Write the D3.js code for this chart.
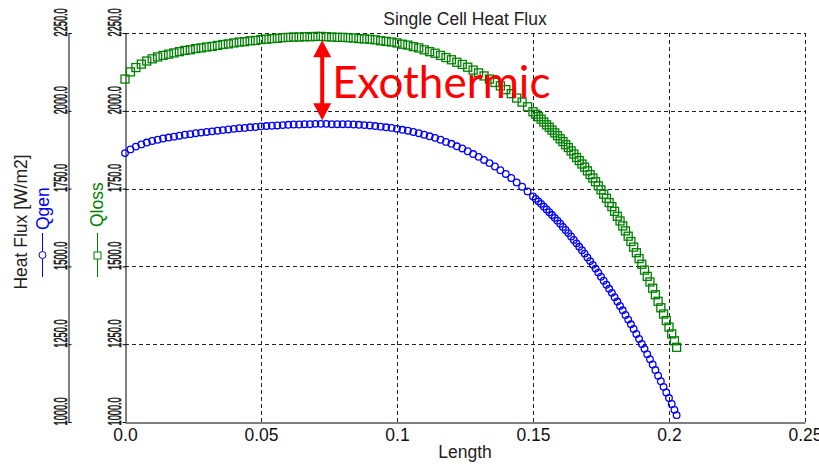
<!DOCTYPE html>
<html>
<head>
<meta charset="utf-8">
<script src="https://cdn.jsdelivr.net/npm/d3@7"></script>
<style>
  body { margin: 0; background: #fff; }
  svg { display: block; font-family: "Liberation Sans", Arial, sans-serif; }
</style>
</head>
<body>
<figure style="margin:0"></figure>
<script>
// x positions along the cell (Length)
const lengthVals = [
  0, 0.002, 0.004, 0.006, 0.008, 0.010, 0.012, 0.014, 0.016, 0.018,
  0.020, 0.022, 0.024, 0.026, 0.028, 0.030, 0.032, 0.034, 0.036, 0.038,
  0.040, 0.042, 0.044, 0.046, 0.048, 0.050, 0.052, 0.054, 0.056, 0.058,
  0.060, 0.062, 0.064, 0.066, 0.068, 0.070, 0.072, 0.074, 0.076, 0.078,
  0.080, 0.082, 0.084, 0.086, 0.088, 0.090, 0.092, 0.094, 0.096, 0.098,
  0.100, 0.102, 0.104, 0.106, 0.108, 0.110, 0.112, 0.114, 0.116, 0.118,
  0.120, 0.122, 0.124, 0.126, 0.128, 0.130, 0.132, 0.134, 0.136, 0.138,
  0.140, 0.142, 0.144, 0.146, 0.148, 0.150,
  0.151, 0.152, 0.153, 0.154, 0.155, 0.156, 0.157, 0.158, 0.159, 0.160,
  0.161, 0.162, 0.163, 0.164, 0.165, 0.166, 0.167, 0.168, 0.169, 0.170,
  0.171, 0.172, 0.173, 0.174, 0.175, 0.176, 0.177, 0.178, 0.179, 0.180,
  0.181, 0.182, 0.183, 0.184, 0.185, 0.186, 0.187, 0.188, 0.189, 0.190,
  0.191, 0.192, 0.193, 0.194, 0.195, 0.196, 0.197, 0.198, 0.199, 0.200,
  0.201, 0.202, 0.2028
];

// Qgen heat flux [W/m2] (blue circles)
const qgen = [
  1864, 1876, 1885, 1892, 1898, 1903, 1907, 1911, 1914, 1917,
  1920, 1923, 1925, 1928, 1930, 1932, 1934, 1936, 1938, 1940,
  1942, 1944, 1945, 1947, 1948, 1950, 1951, 1952, 1953, 1954,
  1955, 1956, 1956, 1957, 1957, 1958, 1958, 1958, 1957, 1957,
  1957, 1957, 1956, 1955, 1954, 1953, 1951, 1949, 1947, 1945,
  1942, 1939, 1936, 1932, 1928, 1923, 1918, 1913, 1907, 1900,
  1894, 1886, 1879, 1870, 1861, 1852, 1842, 1832, 1821, 1809,
  1797, 1784, 1770, 1756, 1741, 1725,
  1717, 1709, 1701, 1692, 1683, 1674, 1665, 1656, 1647, 1637,
  1627, 1617, 1607, 1596, 1585, 1574, 1563, 1552, 1541, 1529,
  1517, 1505, 1493, 1480, 1467, 1454, 1441, 1428, 1415, 1401,
  1387, 1373, 1359, 1344, 1329, 1314, 1299, 1283, 1267, 1251,
  1235, 1218, 1202, 1185, 1167, 1149, 1131, 1113, 1095, 1077,
  1058, 1039, 1022
];

// Qloss heat flux [W/m2] (green squares)
const qloss = [
  2102, 2125, 2139, 2150, 2160, 2167, 2173, 2178, 2182, 2186,
  2190, 2194, 2196, 2200, 2202, 2205, 2207, 2210, 2213, 2215,
  2218, 2221, 2222, 2225, 2226, 2229, 2230, 2232, 2233, 2235,
  2236, 2237, 2237, 2238, 2238, 2239, 2239, 2238, 2237, 2236,
  2236, 2235, 2234, 2232, 2231, 2230, 2228, 2225, 2223, 2221,
  2218, 2214, 2211, 2206, 2202, 2196, 2190, 2185, 2178, 2171,
  2164, 2156, 2149, 2140, 2131, 2122, 2112, 2102, 2091, 2080,
  2068, 2055, 2041, 2028, 2013, 1997,
  1989, 1981, 1973, 1964, 1955, 1947, 1938, 1929, 1920, 1910,
  1901, 1891, 1882, 1871, 1861, 1850, 1840, 1829, 1819, 1807,
  1795, 1784, 1772, 1759, 1746, 1732, 1719, 1705, 1692, 1677,
  1661, 1646, 1630, 1614, 1597, 1580, 1562, 1544, 1525, 1507,
  1488, 1468, 1450, 1430, 1409, 1388, 1367, 1347, 1326, 1305,
  1283, 1261, 1240
];

const xTicks = [0, 0.05, 0.1, 0.15, 0.2, 0.25];
const xTickLabels = ["0.0", "0.05", "0.1", "0.15", "0.2", "0.25"];
const yTicks = [1000, 1250, 1500, 1750, 2000, 2250];

// annotation: arrow between the two curves
const arrowAt = 0.0725, arrowTop = 2227, arrowBottom = 1970;

function buildChart() {
    const width = 819, height = 469;
    const left = 125, right = 805, top = 33, bottom = 422;

    const svg = d3.select("figure")
        .append("svg")
        .attr("width", width)
        .attr("height", height);

    const xScale = d3.scaleLinear().domain([0, 0.25]).range([left, right]);
    const yScale = d3.scaleLinear().domain([1000, 2250]).range([bottom, top]);

    // dashed grid
    const grid = svg.append("g")
        .attr("stroke", "#222")
        .attr("stroke-width", 1)
        .attr("stroke-dasharray", "4,3");
    grid.selectAll(".vgrid")
        .data(xTicks.slice(1))
        .enter().append("line")
        .attr("x1", d => Math.round(xScale(d)) + 0.5)
        .attr("x2", d => Math.round(xScale(d)) + 0.5)
        .attr("y1", yScale(1000))
        .attr("y2", yScale(2250));
    grid.selectAll(".hgrid")
        .data(yTicks.slice(1))
        .enter().append("line")
        .attr("x1", xScale(0))
        .attr("x2", xScale(0.25))
        .attr("y1", d => Math.round(yScale(d)) + 0.5)
        .attr("y2", d => Math.round(yScale(d)) + 0.5);

    // x axis
    const xAxis = svg.append("g")
        .attr("transform", "translate(0," + (bottom + 0.5) + ")")
        .call(d3.axisBottom(xScale).tickValues(xTicks)
            .tickFormat((d, i) => xTickLabels[i])
            .tickSize(0).tickPadding(6));
    xAxis.select(".domain").attr("stroke", "#000");
    xAxis.selectAll("text")
        .attr("font-size", "17.5px")
        .attr("font-family", "Liberation Sans, Arial, sans-serif")
        .attr("fill", "#111");

    // rotated, squeezed tick labels like the original
    function styleYLabels(ax, dx) {
        ax.select(".domain").attr("stroke", "#000");
        ax.selectAll("text")
            .attr("x", null).attr("dy", null)
            .attr("text-anchor", "start")
            .attr("font-size", "18.5px")
            .attr("font-family", "Liberation Sans, Arial, sans-serif")
            .attr("fill", "#111")
            .attr("stroke", "#111")
            .attr("stroke-width", 0.6)
            .attr("transform", "translate(" + dx + ",3) rotate(-90) scale(0.5,1)");
    }

    // Qloss axis (on the plot edge)
    const yAxis2 = svg.append("g")
        .attr("transform", "translate(" + (left + 0.5) + ",0)")
        .call(d3.axisLeft(yScale).tickValues(yTicks)
            .tickFormat(d3.format(".1f"))
            .tickSizeInner(3).tickSizeOuter(0));
    styleYLabels(yAxis2, -5);

    // Qgen axis (outer)
    const yAxis1 = svg.append("g")
        .attr("transform", "translate(68.5,0)")
        .call(d3.axisLeft(yScale).tickValues(yTicks)
            .tickFormat(d3.format(".1f"))
            .tickSizeInner(-3).tickSizeOuter(-3));
    styleYLabels(yAxis1, -1.5);

    // series
    const pts = lengthVals.map((d, i) => ({x: d, gen: qgen[i], loss: qloss[i]}));

    svg.append("g").selectAll("rect")
        .data(pts)
        .enter().append("rect")
        .attr("x", d => xScale(d.x) - 4)
        .attr("y", d => yScale(d.loss) - 4)
        .attr("width", 8)
        .attr("height", 8)
        .attr("fill", "none")
        .attr("stroke", "#008000")
        .attr("stroke-width", 1.3);

    svg.append("g").selectAll("circle")
        .data(pts)
        .enter().append("circle")
        .attr("cx", d => xScale(d.x))
        .attr("cy", d => yScale(d.gen))
        .attr("r", 3.3)
        .attr("fill", "none")
        .attr("stroke", "#0000ff")
        .attr("stroke-width", 1.3);

    // titles
    svg.append("text")
        .attr("x", 465).attr("y", 25)
        .attr("text-anchor", "middle")
        .attr("font-size", "17.5px")
        .attr("fill", "#222")
        .text("Single Cell Heat Flux");

    svg.append("text")
        .attr("x", 465).attr("y", 458)
        .attr("text-anchor", "middle")
        .attr("font-size", "17.5px")
        .attr("fill", "#222")
        .text("Length");

    svg.append("text")
        .attr("transform", "translate(27,222) rotate(-90)")
        .attr("text-anchor", "middle")
        .attr("font-size", "17.5px")
        .attr("fill", "#222")
        .text("Heat Flux [W/m2]");

    // axis legends
    svg.append("text")
        .attr("transform", "translate(49,230) rotate(-90)")
        .attr("font-size", "17.5px")
        .attr("fill", "#0000ff")
        .text("Qgen");
    svg.append("line")
        .attr("x1", 42.5).attr("x2", 42.5).attr("y1", 233).attr("y2", 277)
        .attr("stroke", "#0000ff");
    svg.append("circle")
        .attr("cx", 42.5).attr("cy", 255).attr("r", 3.5)
        .attr("fill", "#fff").attr("stroke", "#0000ff");

    svg.append("text")
        .attr("transform", "translate(103,227) rotate(-90)")
        .attr("font-size", "17.5px")
        .attr("fill", "#008000")
        .text("Qloss");
    svg.append("line")
        .attr("x1", 97.5).attr("x2", 97.5).attr("y1", 233).attr("y2", 277)
        .attr("stroke", "#008000");
    svg.append("rect")
        .attr("x", 94).attr("y", 252).attr("width", 7).attr("height", 7)
        .attr("fill", "#fff").attr("stroke", "#008000");

    // Exothermic annotation
    const ax = xScale(arrowAt), aTop = yScale(arrowTop), aBot = yScale(arrowBottom);
    const head = 17, hw = 9;
    svg.append("line")
        .attr("x1", ax).attr("x2", ax)
        .attr("y1", aTop + head - 1).attr("y2", aBot - head + 1)
        .attr("stroke", "#ff0000").attr("stroke-width", 4);
    svg.append("path")
        .attr("d", `M${ax},${aTop} L${ax + hw},${aTop + head} L${ax - hw},${aTop + head} Z`)
        .attr("fill", "#ff0000");
    svg.append("path")
        .attr("d", `M${ax},${aBot} L${ax + hw},${aBot - head} L${ax - hw},${aBot - head} Z`)
        .attr("fill", "#ff0000");
    svg.append("text")
        .attr("x", ax + 10).attr("y", 98)
        .attr("font-family", "Lato, 'Open Sans', sans-serif")
        .attr("font-size", "44px")
        .attr("fill", "#ff0000")
        .text("Exothermic");
}

buildChart();
</script>
</body>
</html>
